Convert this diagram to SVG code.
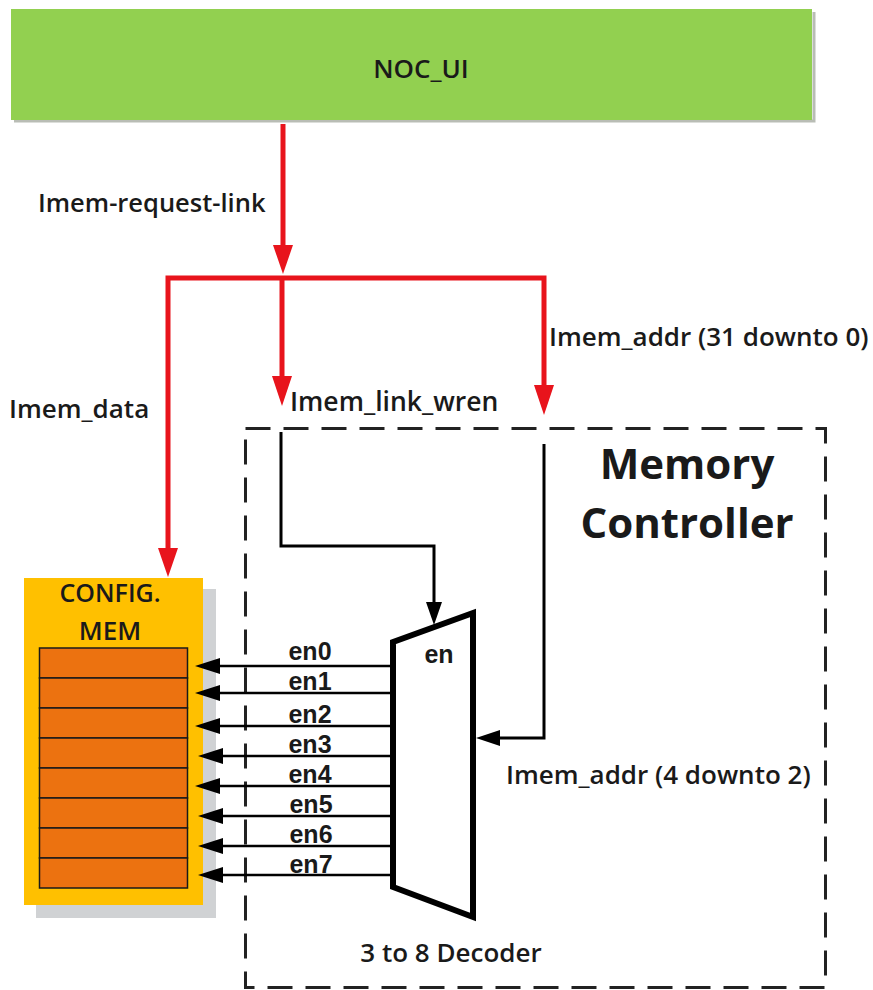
<svg xmlns="http://www.w3.org/2000/svg" width="873" height="990" viewBox="0 0 873 990">
<style>
text{font-family:"Open Sans","Liberation Sans",sans-serif;font-weight:600;fill:#1a1a1a;font-size:26px}
.big{font-size:42px;font-weight:700}
.en{font-family:"Liberation Sans",Arial,sans-serif;font-size:25px;font-weight:700}
.red{fill:none;stroke:#e8141c;stroke-width:5}
.blk{fill:none;stroke:#000;stroke-width:3}
.thin{fill:none;stroke:#000;stroke-width:2.5}
.cell{fill:#ec7210;stroke:#1a1a1a;stroke-width:1.5}
</style>
<rect width="873" height="990" fill="#fff"/>
<g id="noc-ui">
<path d="M14 121H814V12" fill="none" stroke="#b9bdb5" stroke-width="3"/>
<rect x="11" y="9" width="801" height="111" fill="#92d050"/>
<text x="421" y="78" text-anchor="middle">NOC_UI</text>
</g>
<g id="memory-controller">
<rect x="245.500" y="428.500" width="580" height="559" fill="none" stroke="#222" stroke-width="3" stroke-dasharray="25 13"/>
<text class="big" x="687" y="479" text-anchor="middle">Memory</text>
<text class="big" x="687" y="538" text-anchor="middle">Controller</text>
</g>
<g id="config-mem">
<rect x="36" y="589" width="180" height="329" fill="#d0d2d4"/>
<rect x="24" y="578" width="179" height="327" fill="#ffc000"/>
<text x="110" y="602" text-anchor="middle" style="font-size:25px">CONFIG.</text>
<text x="110" y="640" text-anchor="middle">MEM</text>
<rect class="cell" x="39.500" y="648" width="148" height="30"/>
<rect class="cell" x="39.500" y="678" width="148" height="30"/>
<rect class="cell" x="39.500" y="708" width="148" height="30"/>
<rect class="cell" x="39.500" y="738" width="148" height="30"/>
<rect class="cell" x="39.500" y="768" width="148" height="30"/>
<rect class="cell" x="39.500" y="798" width="148" height="30"/>
<rect class="cell" x="39.500" y="828" width="148" height="30"/>
<rect class="cell" x="39.500" y="858" width="148" height="30"/>
</g>
<g id="decoder">
<path d="M393 642L473 613V917L393 887Z" fill="#fff" stroke="#000" stroke-width="6"/>
<text class="en" x="439" y="663" text-anchor="middle">en</text>
<text x="451" y="962" text-anchor="middle">3 to 8 Decoder</text>
</g>
<g id="connectors">
<path class="red" d="M283 124V250"/>
<path d="M273 245H293L283 274Z" fill="#e8141c"/>
<path class="red" d="M168 552V278H544V390M282 278V380"/>
<path d="M158 548H178L168 577Z" fill="#e8141c"/>
<path d="M272 376H292L282 406Z" fill="#e8141c"/>
<path d="M534 385H554L544 415Z" fill="#e8141c"/>
<path class="blk" d="M281 432V546H434V605"/>
<path d="M426 602H442L434 625Z" fill="#000"/>
<path class="blk" d="M544 444V738H495"/>
<path d="M476 738L500 730V746Z" fill="#000"/>
<path class="thin" d="M390 666H215M390 693H215M390 726H215M390 756H215M390 786H215M390 816H215M390 846H215M390 875H215"/>
<path d="M195 666L220 658V674ZM195 693L220 685V701ZM195 726L220 718V734ZM198 756L223 748V764ZM195 786L220 778V794ZM198 816L223 808V824ZM198 846L223 838V854ZM198 875L223 867V883Z" fill="#000"/>
</g>
<g id="labels">
<text x="38" y="212" style="font-size:25.500px">Imem-request-link</text>
<text x="9" y="418">Imem_data</text>
<text x="290" y="411" style="font-size:26.500px">Imem_link_wren</text>
<text x="549" y="346">Imem_addr (31 downto 0)</text>
<text x="506" y="784">Imem_addr (4 downto 2)</text>
<text class="en" x="310" y="660" text-anchor="middle">en0</text>
<text class="en" x="310" y="690" text-anchor="middle">en1</text>
<text class="en" x="310" y="723" text-anchor="middle">en2</text>
<text class="en" x="310" y="753" text-anchor="middle">en3</text>
<text class="en" x="310" y="783" text-anchor="middle">en4</text>
<text class="en" x="311" y="813" text-anchor="middle">en5</text>
<text class="en" x="311" y="843" text-anchor="middle">en6</text>
<text class="en" x="311" y="873" text-anchor="middle">en7</text>
</g>
</svg>
